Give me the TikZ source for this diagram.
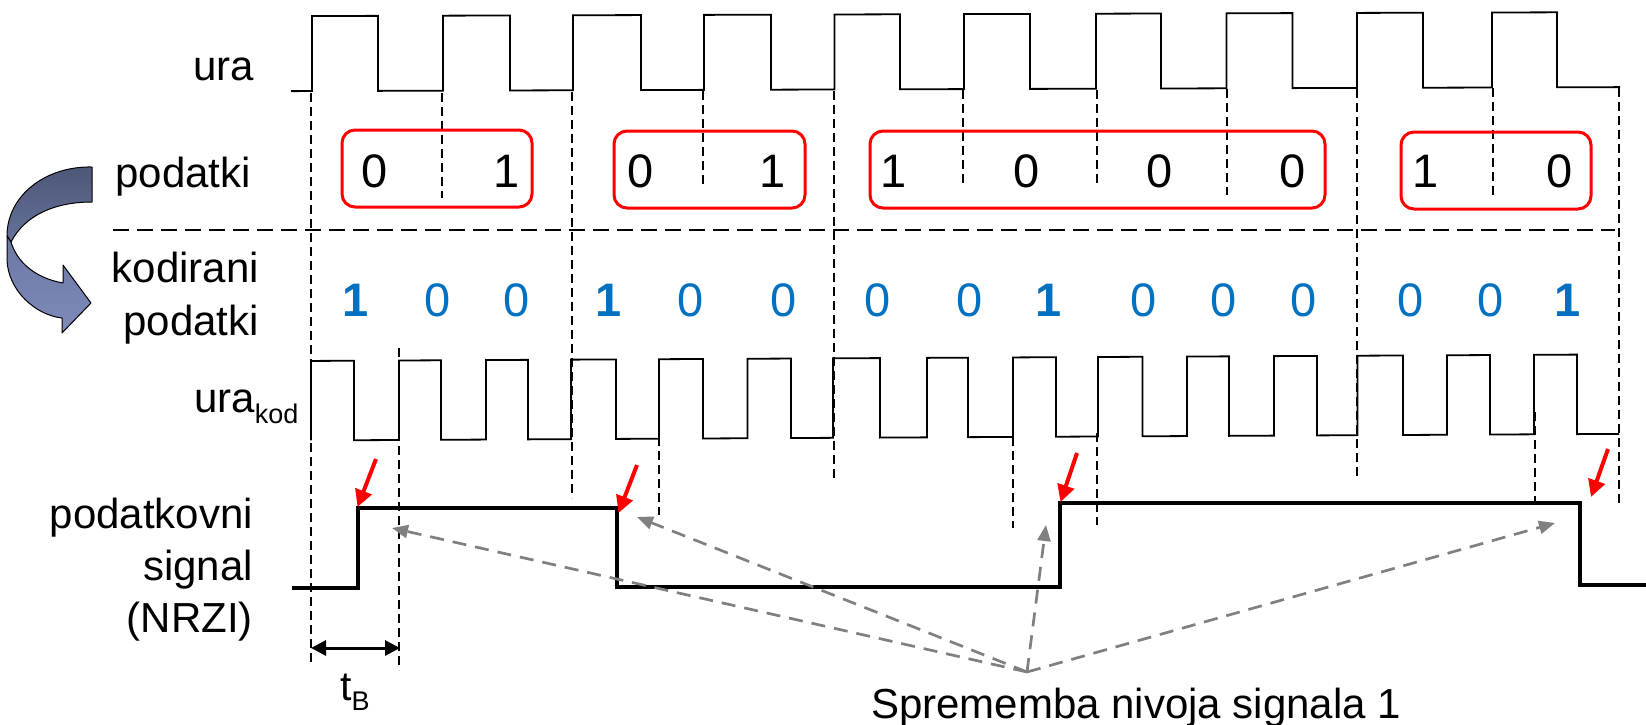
\documentclass[tikz,border=0pt]{standalone}
\usepackage{fontspec}
\setmainfont{Liberation Sans}
\usetikzlibrary{arrows.meta}
\definecolor{kblue}{HTML}{0070C0}
\definecolor{arrgray}{HTML}{808080}
\definecolor{bandA}{HTML}{4C5777}
\definecolor{bandAb}{HTML}{66719A}
\definecolor{bandB}{HTML}{6C77A2}
\definecolor{bandBb}{HTML}{7E8ABA}
\begin{document}
\begin{tikzpicture}[x=1pt,y=-1pt,
  lbl/.style={font=\fontsize{42}{50}\selectfont, inner sep=0pt},
  dig/.style={font=\fontsize{47}{56}\selectfont, inner sep=0pt, anchor=base},
  cdig/.style={dig, text=kblue},
  clk/.style={line width=1.8pt, line join=miter},
  vdash/.style={line width=1.6pt, dash pattern=on 9pt off 5pt},
  hdash/.style={line width=2.5pt, dash pattern=on 16pt off 8pt},
  rbox/.style={draw=red, line width=3pt, rounded corners=13pt},
  nrzi/.style={line width=4pt, line join=miter},
  redarr/.style={draw=red, line width=4pt, -{Triangle[length=17pt,width=17pt]}},
  grayarr/.style={draw=arrgray, line width=2.7pt, dash pattern=on 14pt off 9pt, -{Triangle[length=16pt,width=13pt]}},
  band/.style={draw=black, line width=1pt, line join=round},
]
\useasboundingbox (0,0) rectangle (1646,725);

% curved arrow
\path[band, top color=bandA, bottom color=bandAb]
  (92,167) .. controls (45,166) and (7,196) .. (7,236) -- (11,242)
  .. controls (25,215) and (55,202) .. (92,202) -- cycle;
\path[band, top color=bandB, bottom color=bandBb]
  (7,236) -- (7,260) .. controls (8,290) and (35,315) .. (62,318)
  -- (62,333) -- (91,303) -- (63,265) -- (63,283)
  .. controls (35,278) and (17,262) .. (11,242) -- cycle;

% labels
\node[lbl, anchor=base east] (ura) at (254,81) {ura};
\node[lbl, anchor=base east] (pod) at (251,187) {podatki};
\node[lbl, anchor=base east] (kodl) at (259,282) {kodirani};
\node[lbl, anchor=base east] (pod2) at (259,335) {podatki};
\node[lbl, anchor=base west] (urakod) at (194,412) {ura\raisebox{-11.5pt}{\fontsize{27}{30}\selectfont kod}};
\node[lbl, anchor=base east] (pk) at (253,528) {podatkovni};
\node[lbl, anchor=base east] (sig) at (253,580) {signal};
\node[lbl, anchor=base east] (nrz) at (253,632) {(NRZI)};

% vertical dashed guides
\foreach \x/\a/\b in {311/93/663, 442/93/198, 572/92/498, 703/91/188, 834/91/478,
  963/90/183, 1097/90/184, 1227/89/195, 1357/89/478, 1493/88/197, 1619/88/507,
  399/348/670, 659/423/515, 1013/437/528, 1097/433/525, 1535/412/502}
  \draw[vdash] (\x,\a) -- (\x,\b);

% separator
\draw[hdash] (113,230) -- (1615,230);

% clock
\begin{scope}[yslant=0.003]
\draw[clk] (291,92) foreach \r/\f in {312/378, 443/510, 573/641, 704/771, 834.5/900,
  964/1030, 1096/1161, 1226.5/1292.5, 1357/1423, 1492/1557}
  { -- (\r,92) -- (\r,17) -- (\f,17) -- (\f,92) } -- (1620,92);
\end{scope}

% coded clock
\begin{scope}[yslant=0.005]
\draw[clk] (311,442) foreach \r/\f in {311/354, 399/441, 486/528, 571/616, 659/703,
  747.5/791, 833/880, 927/968, 1013/1056, 1098/1142.5, 1187/1229, 1274/1317,
  1357.5/1403, 1447/1490, 1534/1577}
  { -- (\r,442) -- (\r,362.5) -- (\f,362.5) -- (\f,442) } -- (1619,442);
\end{scope}

% data boxes
\draw[rbox] (342,130) rectangle (532,207);
\draw[rbox] (614,131) rectangle (805,208);
\draw[rbox] (870,131) rectangle (1325,208);
\draw[rbox] (1401,132) rectangle (1591,209);
\foreach \x/\d [count=\i] in {375/0, 507/1, 641/0, 773/1, 894/1, 1027/0, 1160/0, 1293/0, 1426/1, 1560/0}
  \node[dig] (d\i) at (\x,187) {\d};

% coded data
\foreach \x/\d [count=\i] in {356/\textbf{1}, 438/0, 517/0, 609/\textbf{1}, 691/0, 784/0, 878/0,
  970/0, 1049/\textbf{1}, 1144/0, 1224/0, 1304/0, 1411/0, 1491/0, 1568/\textbf{1}}
  \node[cdig] (c\i) at (\x,316.5) {\d};

% NRZI signal
\draw[nrzi] (292,588) -- (358,588) -- (358,508) -- (617,508) -- (617,587)
  -- (1060,587) -- (1060,503) -- (1580,503) -- (1580,585) -- (1646,585);

% red arrows
\coordinate (ra1) at (376,459); \coordinate (rt1) at (357.5,507);
\coordinate (ra2) at (637,465); \coordinate (rt2) at (618.5,513);
\coordinate (ra3) at (1077,453); \coordinate (rt3) at (1060.5,502);
\coordinate (ra4) at (1608,449); \coordinate (rt4) at (1591,497);
\foreach \i in {1,2,3,4} \draw[redarr] (ra\i) -- (rt\i);

% gray annotation arrows
\node[lbl, anchor=base west] (spr) at (871,718) {Sprememba nivoja signala 1};
\coordinate (src) at (1027,672);
\coordinate (g1) at (392,528);
\coordinate (g2) at (637,517);
\coordinate (g3) at (1046,525);
\coordinate (g4) at (1555,523);
\foreach \i in {1,2,3,4} \draw[grayarr] (src) -- (g\i);

% bit time
\coordinate (tbl) at (311,648);
\coordinate (tbr) at (400,648);
\draw[line width=3pt, {Triangle[length=15pt,width=15pt]}-{Triangle[length=15pt,width=15pt]}] (tbl) -- (tbr);
\node[anchor=base west, inner sep=0pt, font=\fontsize{41}{48}\selectfont] (tb) at (340,700) {t\raisebox{-10pt}{\fontsize{27}{30}\selectfont B}};
\end{tikzpicture}
\end{document}
